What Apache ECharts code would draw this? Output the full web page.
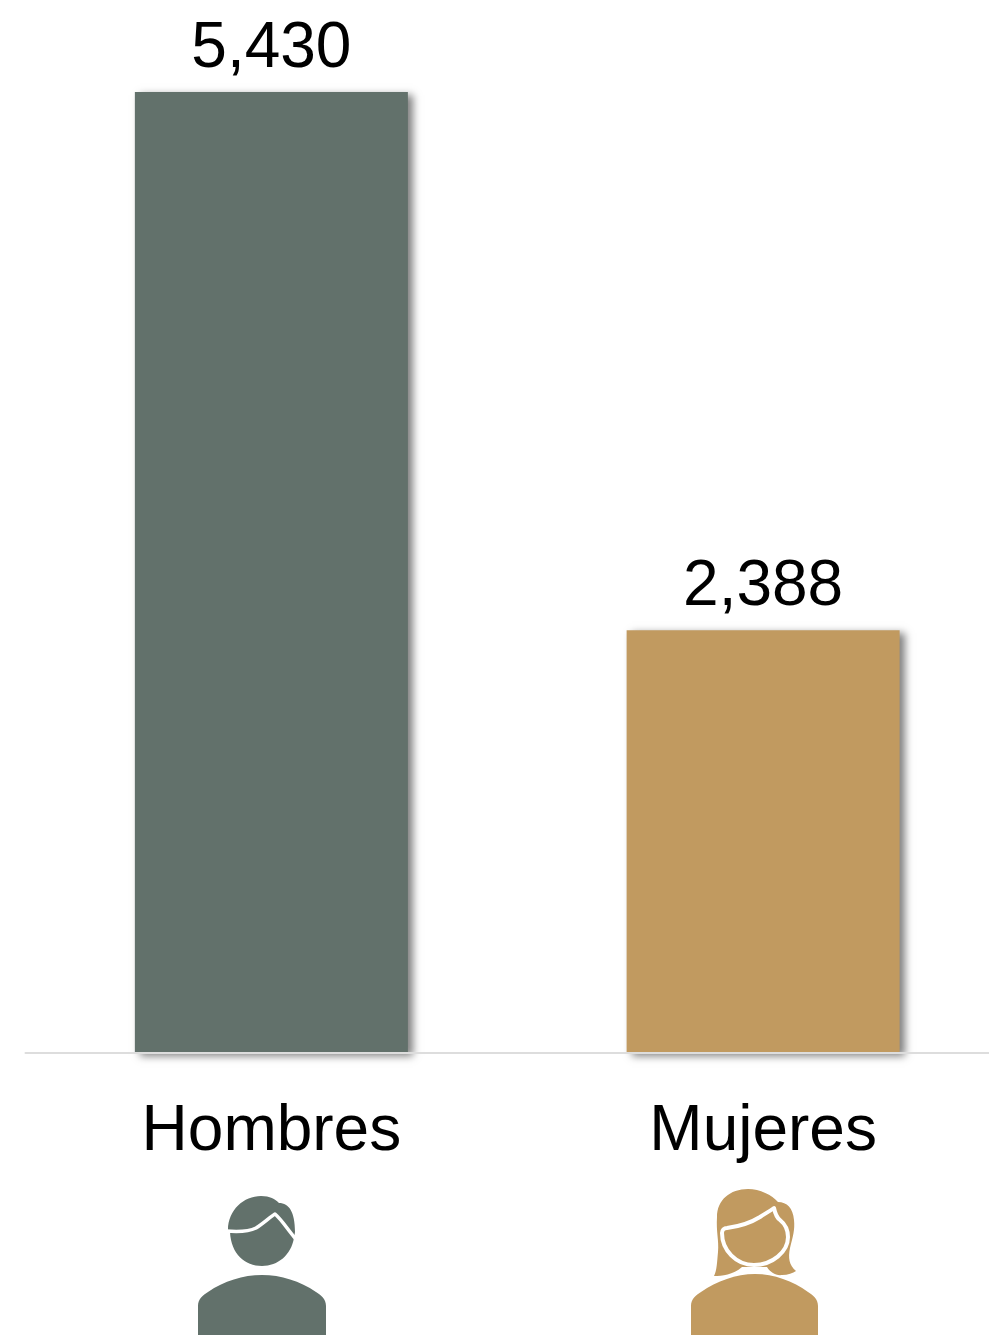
<!DOCTYPE html>
<html><head><meta charset="utf-8">
<style>html,body{margin:0;padding:0;background:#fff}#c{width:989px;height:1335px}</style>
<script src="https://cdn.jsdelivr.net/npm/echarts@6/dist/echarts.min.js"></script></head>
<body><div id="c"></div>
<script>
const categories = ['Hombres', 'Mujeres'];
const values = [5430, 2388];
const barColors = ['#62716B', '#C19A60'];
const FONT = '"Liberation Sans", Arial, sans-serif';

const manHead = 'M228,1230 C228,1210 244,1196 261,1196 C270,1196 275,1199 279,1203 C289,1203 295,1212 295,1232 L294,1238 C291,1255 278,1266 262,1266 C245,1266 231,1254 230,1232 Z';
const manLine = 'M226,1231 C238,1232 248,1232 256,1228 C264,1223 270,1217 275,1214 C282,1220 288,1230 295,1238';
const manBody = 'M198,1335 L198,1306 C198,1299 203,1295 208,1292 C224,1281 243,1275 262,1275 C281,1275 300,1281 316,1292 C321,1295 326,1299 326,1306 L326,1335 Z';
const womanHair = 'M748,1189 C730,1189 717,1200 717,1217 C716,1232 719,1240 718,1252 C717,1262 717,1270 714,1276 C722,1276 733,1275 742,1267 L767,1267 C770,1272 776,1276 782,1275 C788,1275 793,1273 796,1271 C789,1265 788,1258 790,1248 C793,1236 795,1230 794,1220 C793,1208 787,1202 778,1202 C772,1195 760,1189 748,1189 Z';
const womanFace = 'M722,1233 C722,1230 724,1228 727,1228 C742,1226 752,1222 760,1217 C766,1213 770,1211 774,1208 C775,1213 776,1217 780,1220 C785,1224 788,1230 788,1237 C788,1252 772,1265 754,1265 C736,1265 722,1250 722,1233 Z';
const womanBody = 'M691,1335 L691,1306 C691,1299 696,1295 701,1292 C717,1281 736,1274 755,1274 C774,1274 793,1281 808,1292 C813,1295 818,1299 818,1306 L818,1335 Z';

function icon(d, fill, stroke, width) {
  return { type: 'path', shape: { pathData: d }, silent: true,
    style: { fill: fill, stroke: stroke, lineWidth: width || 0, lineJoin: 'round', lineCap: 'round' } };
}
const iconShapes = [
  icon(manHead, barColors[0]), icon(manLine, 'none', '#fff', 3.5), icon(manBody, barColors[0]),
  icon(womanHair, barColors[1]), icon(womanFace, barColors[1], '#fff', 4), icon(womanBody, barColors[1])
];

const chart = echarts.init(document.getElementById('c'), null, { renderer: 'canvas' });
chart.setOption({
  animation: false,
  backgroundColor: '#fff',
  grid: { left: 25.5, width: 983.5, top: 92, height: 961, outerBoundsMode: 'none', containLabel: false },
  xAxis: {
    type: 'category', data: categories, z: 5,
    axisLine: { show: true, lineStyle: { color: '#DDDDDD', width: 2 } },
    axisTick: { show: false },
    axisLabel: { color: '#000', fontFamily: FONT, fontSize: 64, margin: 47, interval: 0 }
  },
  yAxis: { type: 'value', min: 0, max: 5430, show: false, splitLine: { show: false } },
  series: [{
    type: 'bar', barWidth: 273,
    data: values.map((v, i) => ({ value: v, itemStyle: { color: barColors[i] } })),
    itemStyle: { shadowColor: 'rgba(0,0,0,0.5)', shadowBlur: 8, shadowOffsetX: 5, shadowOffsetY: 3 },
    label: { show: true, position: 'top', distance: 11, color: '#000', fontFamily: FONT, fontSize: 64,
      formatter: p => p.value.toLocaleString('en-US') }
  }, {
    type: 'custom', coordinateSystem: 'none', data: [0], silent: true, clip: false,
    renderItem: () => ({ type: 'group', children: iconShapes })
  }]
});
</script></body></html>
